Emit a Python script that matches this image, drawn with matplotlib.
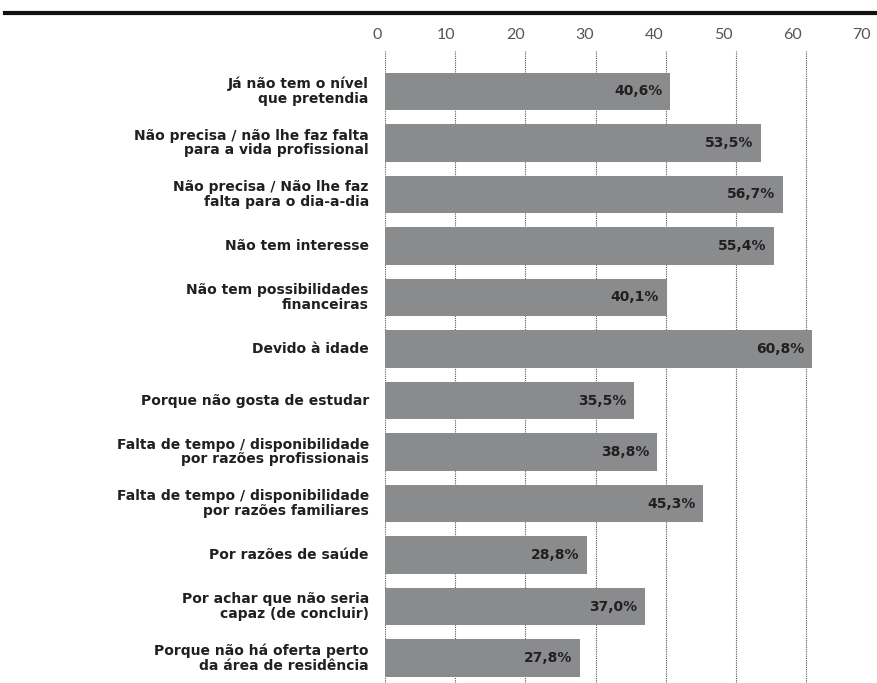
import matplotlib.pyplot as plt
import numpy as np

categories = [
    "Já não tem o nível\nque pretendia",
    "Não precisa / não lhe faz falta\npara a vida profissional",
    "Não precisa / Não lhe faz\nfalta para o dia-a-dia",
    "Não tem interesse",
    "Não tem possibilidades\nfinanceiras",
    "Devido à idade",
    "Porque não gosta de estudar",
    "Falta de tempo / disponibilidade\npor razões profissionais",
    "Falta de tempo / disponibilidade\npor razões familiares",
    "Por razões de saúde",
    "Por achar que não seria\ncapaz (de concluir)",
    "Porque não há oferta perto\nda área de residência",
]
values = [40.6, 53.5, 56.7, 55.4, 40.1, 60.8, 35.5, 38.8, 45.3, 28.8, 37.0, 27.8]
ticks = [0, 10, 20, 30, 40, 50, 60, 70]

W, H = 877, 683
fig = plt.figure(figsize=(W / 100, H / 100), dpi=100)
ax = fig.add_axes([385 / W, 0, (876.4 - 385) / W, (683 - 51) / H])

y = np.arange(len(values))
ax.barh(y, values, height=0.72, color="#8a8b8d", zorder=2)
ax.set_xlim(0, 70)
ax.set_ylim(len(values) - 0.515, -0.786)

for v in ticks[:-1]:
    ax.axvline(v, color="#555555", lw=0.8, ls=(0, (1, 1)), zorder=1)

for yi, v in zip(y, values):
    ax.text(v - 1.1, yi, f"{v:.1f}%".replace(".", ","), ha="right", va="center",
            fontsize=10, fontweight="bold", color="#231f20", zorder=3)

for yi, c in zip(y, categories):
    ax.text(-2.3, yi, c, ha="right", va="center", fontsize=10, fontweight="bold",
            color="#231f20", linespacing=1.05)

ax.set_xticks([])
ax.set_yticks([])
for s in ax.spines.values():
    s.set_visible(False)

# the scale labels sit on a slightly tighter spacing than the grid
for v in ticks:
    ax.text(v * 0.987 - 1.18, 1.0 + 16 / (683 - 51), str(v), transform=ax.get_xaxis_transform(),
            ha="center", va="center", fontsize=11.5, fontweight="normal", color="#555555",
            family="Lato")

fig.add_artist(plt.Line2D([5 / W, 1], [1 - 13 / H, 1 - 13 / H], color="#111111", lw=3))

fig.savefig("out.png", dpi=100)
